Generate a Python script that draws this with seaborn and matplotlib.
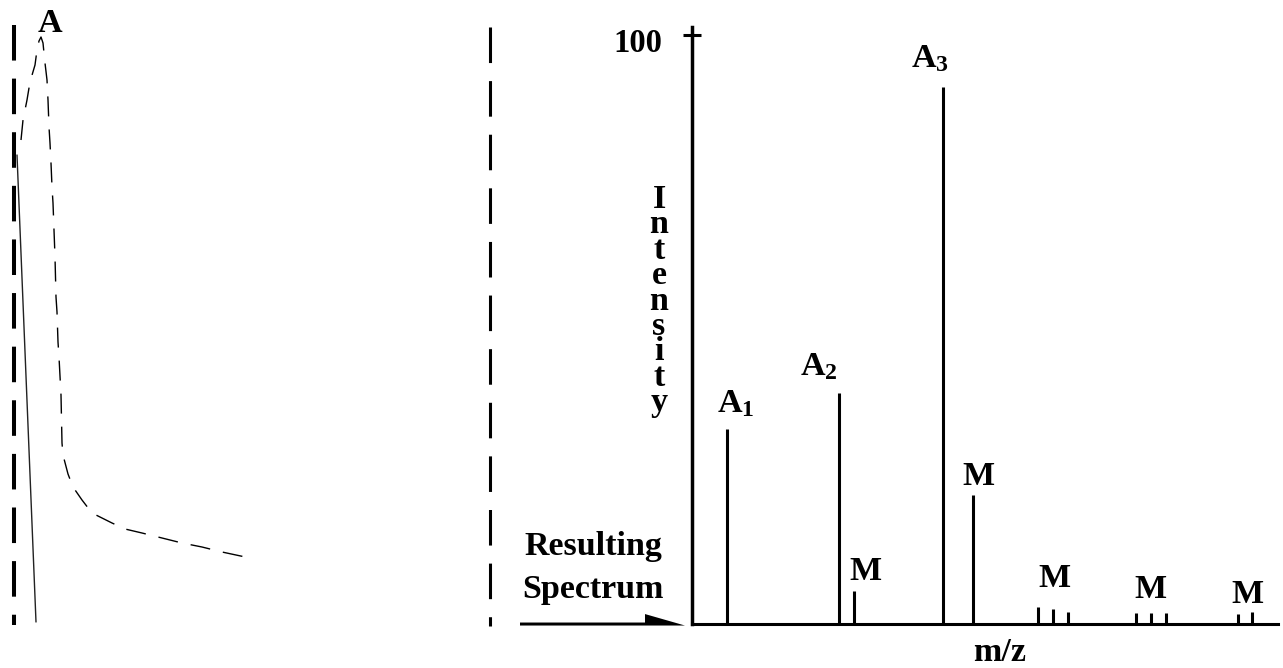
import matplotlib
matplotlib.use("Agg")
import matplotlib.pyplot as plt
from matplotlib.patches import FancyArrow
from matplotlib.transforms import ScaledTranslation
import pandas as pd
import seaborn as sns

# ---- chromatogram (left panel), arbitrary time / signal units ----
trace_time = [21, 23, 27, 30, 35, 37, 39, 41, 43, 45, 47, 48, 49, 50, 51, 52, 53, 54,
              55, 56, 57, 58, 59, 61, 62, 63, 68, 73, 82, 92, 112, 125, 142, 162,
              182, 202, 222, 250]
trace_signal = [490, 510, 530, 548, 565, 580, 589, 593, 587, 567, 550, 530, 503, 487,
                467, 443, 427, 400, 373, 333, 318, 288, 273, 235, 187, 175, 156, 143,
                130, 117, 107, 101, 97, 92, 87, 83, 78, 72]
drift_time = [17, 36]
drift_signal = [475, 8]
trace_peak_label = "A"
trace_peak_index = 7

# ---- resulting mass spectrum ----
mz = [35, 147, 162, 251, 281, 346, 361, 376, 444, 459, 474, 546, 560]
intensity = [33.1, 39.2, 5.6, 91.2, 21.9, 2.9, 2.5, 2.0, 1.9, 1.9, 1.9, 1.7, 2.0]
label_text = ["A$_1$", "A$_2$", "A$_3$", "M", "M", "M", "M", "M"]
label_peaks = [[0], [1], [3], [2], [4], [5, 6, 7], [8, 9, 10], [11, 12]]
y_ticks = [100]
y_tick_labels = ["100"]
y_title = "Intensity"
x_title = "m/z"
caption = ["Resulting", "Spectrum"]

# label placement relative to the peak tip (points) and alignment
label_offsets = [(-7.2, 12.2), (-28, 13), (-23, 14.4), (7.9, 7.9), (3.6, 7.2),
                 (0.7, 14.4), (-0.7, 10.8), (1.4, 6.5)]
label_ha = ["left", "left", "left", "center", "center", "center", "center", "center"]

sns.set_theme(style="white")
plt.rcParams["font.family"] = ["Liberation Serif", "DejaVu Serif"]
plt.rcParams["font.weight"] = "bold"
plt.rcParams["text.color"] = "black"
plt.rcParams["axes.labelcolor"] = "black"
plt.rcParams["xtick.color"] = "black"
plt.rcParams["ytick.color"] = "black"
plt.rcParams["mathtext.fontset"] = "custom"
plt.rcParams["mathtext.rm"] = "Liberation Serif:bold"
plt.rcParams["mathtext.bf"] = "Liberation Serif:bold"
plt.rcParams["mathtext.it"] = "Liberation Serif:bold"
plt.rcParams["mathtext.default"] = "regular"

W, H = 1283, 668
fig = plt.figure(figsize=(W / 100, H / 100), dpi=100)
fig.patch.set_facecolor("white")

FS = 24.5

# ---------------- left panel ----------------
ax0 = fig.add_axes([0, 38 / H, 500 / W, 610 / H])
ax0.set_xlim(0, 500)
ax0.set_ylim(0, 610)
ax0.axis("off")

trace = pd.DataFrame({"time": trace_time, "signal": trace_signal})
sns.lineplot(data=trace, x="time", y="signal", sort=False, estimator=None,
             color="black", lw=1.0, ax=ax0,
             linestyle=(0, (14.4, 9.4)))
drift = pd.DataFrame({"time": drift_time, "signal": drift_signal})
sns.lineplot(data=drift, x="time", y="signal", sort=False, estimator=None,
             color="#222222", lw=1.0, ax=ax0)

# separators
ax0.plot([14, 14], [605, 5], color="black", lw=2.9,
         linestyle=(0, (25.6 / 2.9, 13.0 / 2.9)), solid_capstyle="butt")
ax0.plot([490, 490], [603, 4], color="black", lw=2.2,
         linestyle=(0, (25.6 / 2.2, 13.0 / 2.2)), solid_capstyle="butt")

ax0.annotate(trace_peak_label,
             xy=(trace_time[trace_peak_index], trace_signal[trace_peak_index]),
             xytext=(6.5, 3.6), textcoords="offset points",
             ha="center", va="baseline", fontsize=FS, fontweight="bold")

# ---------------- spectrum ----------------
ax = fig.add_axes([692 / W, (H - 624) / H, (1278 - 692) / W, (624 - 27) / H])
ax.set_facecolor("white")
ax.set_xlim(0, 586)
ax.set_ylim(0, 101.4)
ax.vlines(mz, 0, intensity, color="black", lw=2.2)

for side in ["top", "right"]:
    ax.spines[side].set_visible(False)
ax.spines["left"].set_linewidth(2.5)
ax.spines["bottom"].set_linewidth(2.2)
ax.spines["left"].set_color("black")
ax.spines["bottom"].set_color("black")

ax.set_xticks([])
ax.set_yticks(y_ticks, labels=y_tick_labels)
ax.tick_params(axis="y", direction="inout", length=13, width=2.2, pad=15,
               labelsize=23.5, colors="black", left=True)
for lab in ax.get_yticklabels():
    lab.set_fontweight("bold")
    lab.set_transform(lab.get_transform() + ScaledTranslation(0, -5 / 100, fig.dpi_scale_trans))

ax.set_ylabel("\n".join(y_title), rotation=0, fontsize=FS, fontweight="bold",
              linespacing=0.77, ha="center", va="center")
ax.yaxis.set_label_coords(-0.0563, 0.541)

ax.set_xlabel(x_title, fontsize=FS, fontweight="bold", va="baseline")
ax.xaxis.set_label_coords(0.5256, -0.062)

for text, peaks, off, ha in zip(label_text, label_peaks, label_offsets, label_ha):
    px = sum(mz[i] for i in peaks) / len(peaks)
    py = max(intensity[i] for i in peaks)
    ax.annotate(text, xy=(px, py), xytext=off, textcoords="offset points",
                ha=ha, va="baseline", fontsize=FS, fontweight="bold",
                annotation_clip=False)

# caption and arrow leading into the spectrum baseline
ax.text(-99, 11.7, caption[0], ha="center", va="baseline", fontsize=FS,
        fontweight="bold", clip_on=False)
ax.text(-99, 4.4, caption[1], ha="center", va="baseline", fontsize=FS,
        fontweight="bold", clip_on=False)
arrow = FancyArrow(-172, -0.26, 165, 0, width=1.02, head_width=3.9, head_length=40,
                   shape="right", length_includes_head=True, color="black",
                   lw=0, clip_on=False)
ax.add_patch(arrow)

fig.savefig("out.png", dpi=100, facecolor="white")
